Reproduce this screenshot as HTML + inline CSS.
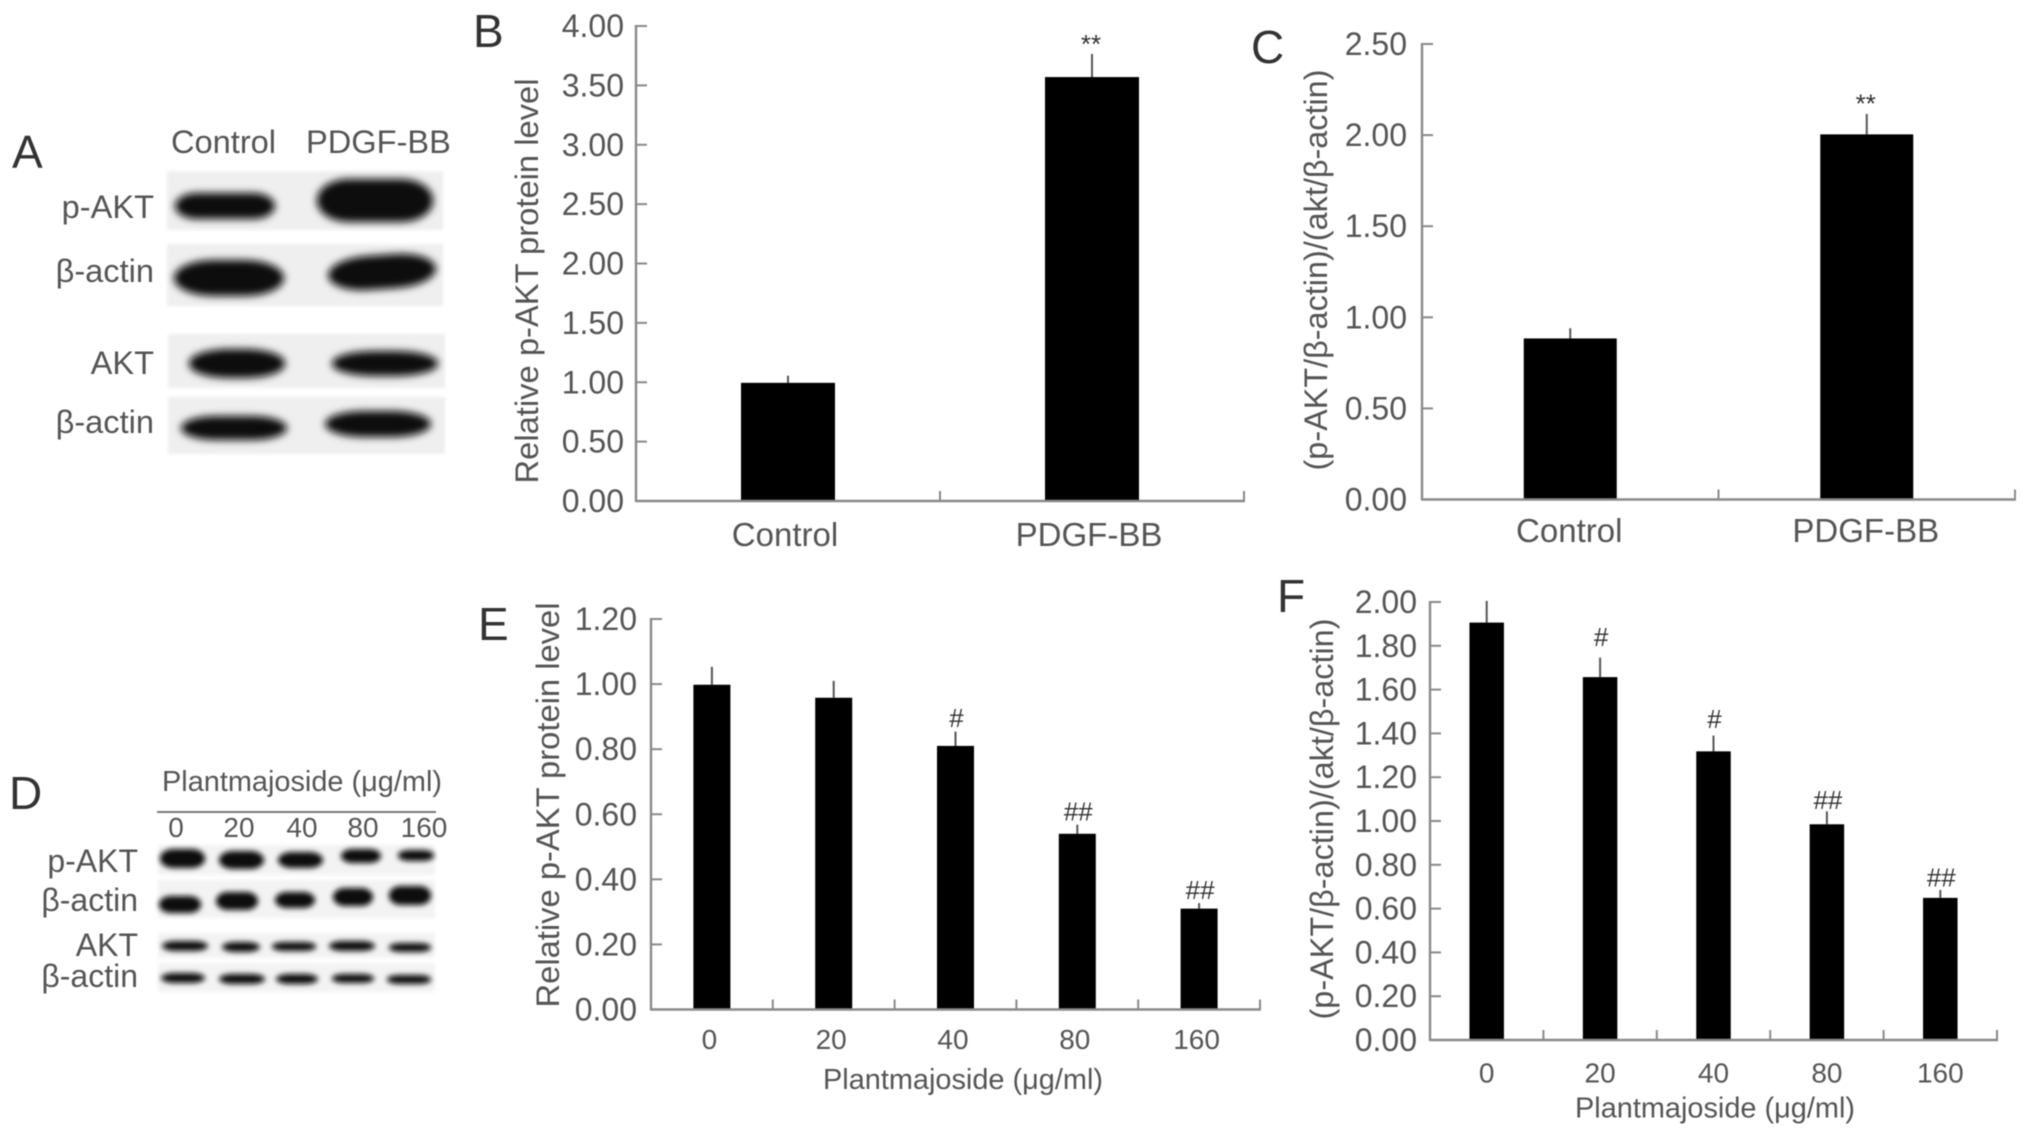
<!DOCTYPE html>
<html lang="en">
<head>
<meta charset="utf-8">
<title>Plantmajoside p-AKT figure</title>
<style>
html,body{margin:0;padding:0;background:#fff;width:2032px;height:1136px;overflow:hidden}
svg{display:block;filter:blur(0.6px)}
text{font-family:"Liberation Sans","DejaVu Sans",sans-serif;fill:#555}
.letter{font-size:46px;fill:#333}
.blot-label{font-size:32.6px}
.d-label{font-size:32px}
.d-num{font-size:28px}
.band{fill:#080808}
.bg{fill:#efefef}
</style>
</head>
<body>
<svg id="figure" xmlns="http://www.w3.org/2000/svg" width="2032" height="1136" viewBox="0 0 2032 1136">
<defs>
<filter id="soft" x="-30%" y="-60%" width="160%" height="220%"><feGaussianBlur stdDeviation="4"/></filter>
<filter id="softer" x="-30%" y="-60%" width="160%" height="220%"><feGaussianBlur stdDeviation="2.6"/></filter>
<filter id="bgsoft" x="-10%" y="-20%" width="120%" height="140%"><feGaussianBlur stdDeviation="1.5"/></filter>
</defs>

<text class="letter" x="12" y="168">A</text>
<text class="letter" x="473" y="47">B</text>
<text class="letter" x="1251" y="63">C</text>
<text class="letter" x="9" y="809">D</text>
<text class="letter" x="478" y="640">E</text>
<text class="letter" x="1277" y="612">F</text>

<g>
  <text class="blot-label" x="171" y="153">Control</text>
  <text class="blot-label" x="306" y="153">PDGF-BB</text>
  <text class="blot-label" x="154" y="218" text-anchor="end">p-AKT</text>
  <text class="blot-label" x="154" y="282" text-anchor="end">β-actin</text>
  <text class="blot-label" x="154" y="374" text-anchor="end">AKT</text>
  <text class="blot-label" x="154" y="433" text-anchor="end">β-actin</text>
  <g filter="url(#bgsoft)">
    <rect class="bg" x="167" y="171" width="276" height="59"/>
    <rect class="bg" x="167" y="244" width="276" height="62"/>
    <rect class="bg" x="168" y="334" width="277" height="54"/>
    <rect class="bg" x="168" y="397" width="277" height="57"/>
  </g>
  <g filter="url(#soft)">
    <rect class="band" x="175" y="193" width="100" height="26" rx="22" ry="13"/>
    <rect class="band" x="317" y="179" width="116" height="43" rx="32" ry="21"/>
    <rect class="band" x="174" y="260" width="110" height="36" rx="40" ry="18"/>
    <rect class="band" x="328" y="255" width="108" height="34" rx="40" ry="17" transform="rotate(-4 382 272)"/>
    <rect class="band" x="189" y="349" width="96" height="29" rx="40" ry="14"/>
    <rect class="band" x="332" y="351" width="106" height="25" rx="44" ry="12"/>
    <rect class="band" x="181" y="416" width="106" height="24" rx="36" ry="12"/>
    <rect class="band" x="325" y="411" width="106" height="26" rx="40" ry="13"/>
  </g>
</g>

<g>
  <text x="162" y="791" font-size="29" textLength="280" lengthAdjust="spacingAndGlyphs">Plantmajoside (μg/ml)</text>
  <line x1="157" y1="812" x2="436" y2="812" stroke="#777" stroke-width="2"/>
  <text class="d-num" x="176" y="837" text-anchor="middle">0</text>
  <text class="d-num" x="239" y="837" text-anchor="middle">20</text>
  <text class="d-num" x="302" y="837" text-anchor="middle">40</text>
  <text class="d-num" x="363" y="837" text-anchor="middle">80</text>
  <text class="d-num" x="424" y="837" text-anchor="middle">160</text>
  <text class="d-label" x="138" y="872" text-anchor="end">p-AKT</text>
  <text class="d-label" x="138" y="911" text-anchor="end">β-actin</text>
  <text class="d-label" x="138" y="956" text-anchor="end">AKT</text>
  <text class="d-label" x="138" y="987" text-anchor="end">β-actin</text>
  <g filter="url(#bgsoft)">
    <rect class="bg" x="158" y="845" width="277" height="30" style="fill:#f3f3f3"/>
    <rect class="bg" x="158" y="880" width="277" height="38" style="fill:#f3f3f3"/>
    <rect class="bg" x="158" y="933" width="277" height="25" style="fill:#f3f3f3"/>
    <rect class="bg" x="158" y="963" width="277" height="29" style="fill:#f3f3f3"/>
  </g>
  <g filter="url(#softer)">
    <rect class="band" x="160" y="849" width="45" height="19" rx="14" ry="9"/>
    <rect class="band" x="219" y="851" width="45" height="18" rx="14" ry="9"/>
    <rect class="band" x="278" y="852" width="45" height="16" rx="14" ry="8"/>
    <rect class="band" x="341" y="849" width="40" height="14" rx="12" ry="7"/>
    <rect class="band" x="398" y="850" width="36" height="11" rx="12" ry="5"/>
    <rect class="band" x="159" y="896" width="42" height="17" rx="12" ry="8"/>
    <rect class="band" x="216" y="892" width="42" height="18" rx="12" ry="9"/>
    <rect class="band" x="275" y="892" width="40" height="16" rx="12" ry="8"/>
    <rect class="band" x="333" y="888" width="40" height="18" rx="12" ry="9"/>
    <rect class="band" x="389" y="886" width="42" height="19" rx="12" ry="9"/>
    <rect class="band" x="162" y="941" width="46" height="10" rx="14" ry="5"/>
    <rect class="band" x="222" y="942" width="38" height="10" rx="14" ry="5"/>
    <rect class="band" x="272" y="942" width="44" height="9" rx="14" ry="4"/>
    <rect class="band" x="329" y="941" width="46" height="10" rx="14" ry="5"/>
    <rect class="band" x="389" y="943" width="42" height="9" rx="14" ry="4"/>
    <rect class="band" x="161" y="973" width="44" height="10" rx="14" ry="5"/>
    <rect class="band" x="219" y="974" width="46" height="10" rx="14" ry="5"/>
    <rect class="band" x="276" y="974" width="42" height="10" rx="14" ry="5"/>
    <rect class="band" x="332" y="974" width="42" height="9" rx="14" ry="4"/>
    <rect class="band" x="387" y="975" width="44" height="9" rx="14" ry="4"/>
  </g>
</g>

<script>
// Chart B
const bCategories = ["Control", "PDGF-BB"];
const bValues = [0.995, 3.57];
const bErrors = [0.06, 0.195];
const bMarks = ["", "**"];
const bTickLabels = ["0.00", "0.50", "1.00", "1.50", "2.00", "2.50", "3.00", "3.50", "4.00"];
// Chart C
const cCategories = ["Control", "PDGF-BB"];
const cValues = [0.884, 2.004];
const cErrors = [0.056, 0.112];
const cMarks = ["", "**"];
const cTickLabels = ["0.00", "0.50", "1.00", "1.50", "2.00", "2.50"];
// Chart E
const eCategories = ["0", "20", "40", "80", "160"];
const eValues = [0.998, 0.958, 0.81, 0.54, 0.31];
const eErrors = [0.055, 0.052, 0.044, 0.028, 0.017];
const eMarks = ["", "", "#", "##", "##"];
const eTickLabels = ["0.00", "0.20", "0.40", "0.60", "0.80", "1.00", "1.20"];
// Chart F
const fCategories = ["0", "20", "40", "80", "160"];
const fValues = [1.906, 1.657, 1.318, 0.985, 0.649];
const fErrors = [0.099, 0.089, 0.072, 0.059, 0.036];
const fMarks = ["", "#", "#", "##", "##"];
const fTickLabels = ["0.00", "0.20", "0.40", "0.60", "0.80", "1.00", "1.20", "1.40", "1.60", "1.80", "2.00"];

const SVG_NS = "http://www.w3.org/2000/svg";
const figure = document.getElementById("figure");

function make(parent, tag, attrs, text) {
  const el = document.createElementNS(SVG_NS, tag);
  for (const k in attrs) el.setAttribute(k, attrs[k]);
  if (text !== undefined) el.textContent = text;
  parent.appendChild(el);
  return el;
}

function drawChart(id, data, box) {
  const yMax = parseFloat(data.ticks[data.ticks.length - 1]);
  const yScale = v => box.bottom - (v / yMax) * (box.bottom - box.top);
  const band = (box.right - box.left) / data.categories.length;
  const xCenter = i => box.left + band * (i + 0.5);

  const g = make(figure, "g", {});
  
  

  // bars and error bars
  data.values.forEach((v, i) => {
    const errLine = make(g, "line", {
      x1: xCenter(i), x2: xCenter(i), y1: yScale(v), y2: yScale(v + data.errors[i]),
      stroke: "#555", "stroke-width": 2
    });
    
    
    const bar = make(g, "rect", {
      x: xCenter(i) - box.barWidth / 2, y: yScale(v),
      width: box.barWidth, height: box.bottom - yScale(v), fill: "#000"
    });
    
    
    if (data.marks[i]) {
      const isStar = data.marks[i].indexOf("*") >= 0;
      const mark = make(g, "text", {
        x: xCenter(i) + (isStar ? -1 : 1),
        y: yScale(v + data.errors[i]) - box.markGaps[i] + (isStar ? 15 : 9),
        "text-anchor": "middle", "font-size": isStar ? 26 : 26, style: "fill:#333"
      }, data.marks[i]);
      
      
    }
    const cat = make(g, "text", {
      x: xCenter(i) + box.catDx, y: box.catY, "text-anchor": "middle", "font-size": box.catSize
    }, data.categories[i]);
    
    
  });

  // y axis
  const yAxis = make(g, "line", {
    x1: box.left, x2: box.left, y1: box.top - 1, y2: box.bottom + 1, stroke: "#8a8a8a", "stroke-width": 2.4
  });
  
  
  data.ticks.forEach(label => {
    const v = parseFloat(label);
    const tick = make(g, "line", {
      x1: box.left, x2: box.left + 11, y1: yScale(v), y2: yScale(v), stroke: "#8a8a8a", "stroke-width": 2
    });
    
    
    const t = make(g, "text", {
      x: box.tickRight, y: yScale(v) + 11, "text-anchor": "end", "font-size": 32
    }, label);
    
    
  });

  // x axis
  const xAxis = make(g, "line", {
    x1: box.left, x2: box.right + 1, y1: box.bottom, y2: box.bottom, stroke: "#8a8a8a", "stroke-width": 2.4
  });
  
  
  data.categories.forEach((c, i) => {
    const px = box.left + band * (i + 1);
    const tick = make(g, "line", {
      x1: px, x2: px, y1: box.bottom, y2: box.bottom - 10, stroke: "#8a8a8a", "stroke-width": 2
    });
    
    
  });

  // titles
  const yTitle = make(g, "text", {
    x: box.yTitleX, y: box.yTitleY, "text-anchor": "middle", "font-size": 32,
    textLength: box.yTitleLen, lengthAdjust: "spacingAndGlyphs",
    transform: "rotate(-90 " + box.yTitleX + " " + box.yTitleY + ")"
  }, data.yTitle);
  
  
  if (data.xTitle) {
    const xTitle = make(g, "text", {
      x: box.xTitleX, y: box.xTitleY, "text-anchor": "middle", "font-size": 29,
      textLength: 280, lengthAdjust: "spacingAndGlyphs"
    }, data.xTitle);
    
    
  }
}

drawChart("b", {
  categories: bCategories, values: bValues, errors: bErrors, marks: bMarks, ticks: bTickLabels,
  yTitle: "Relative p-AKT protein level"
}, { left: 636, right: 1244, top: 26, bottom: 501, barWidth: 94, markGaps: [0, 16], catDx: -3, catY: 546, catSize: 33,
     tickRight: 624, yTitleX: 538, yTitleY: 281, yTitleLen: 405 });

drawChart("c", {
  categories: cCategories, values: cValues, errors: cErrors, marks: cMarks, ticks: cTickLabels,
  yTitle: "(p-AKT/β-actin)/(akt/β-actin)"
}, { left: 1422, right: 2015, top: 44, bottom: 499.5, barWidth: 93, markGaps: [0, 16.5], catDx: -1, catY: 542, catSize: 33,
     tickRight: 1407, yTitleX: 1327, yTitleY: 270, yTitleLen: 401 });

drawChart("e", {
  categories: eCategories, values: eValues, errors: eErrors, marks: eMarks, ticks: eTickLabels,
  yTitle: "Relative p-AKT protein level", xTitle: "Plantmajoside (μg/ml)"
}, { left: 651, right: 1260, top: 619, bottom: 1009.5, barWidth: 37, markGaps: [0, 0, 13.5, 13, 13], catDx: -2.5, catY: 1049, catSize: 28,
     tickRight: 637, yTitleX: 559, yTitleY: 805, yTitleLen: 405, xTitleX: 963, xTitleY: 1089 });

drawChart("f", {
  categories: fCategories, values: fValues, errors: fErrors, marks: fMarks, ticks: fTickLabels,
  yTitle: "(p-AKT/β-actin)/(akt/β-actin)", xTitle: "Plantmajoside (μg/ml)"
}, { left: 1430, right: 1997, top: 602, bottom: 1040, barWidth: 34.5, markGaps: [0, 20.5, 16.5, 11.5, 12.5], catDx: 0, catY: 1082.5, catSize: 28,
     tickRight: 1417, yTitleX: 1333, yTitleY: 819, yTitleLen: 401, xTitleX: 1715, xTitleY: 1117.5 });
</script>
</svg>
</body>
</html>
